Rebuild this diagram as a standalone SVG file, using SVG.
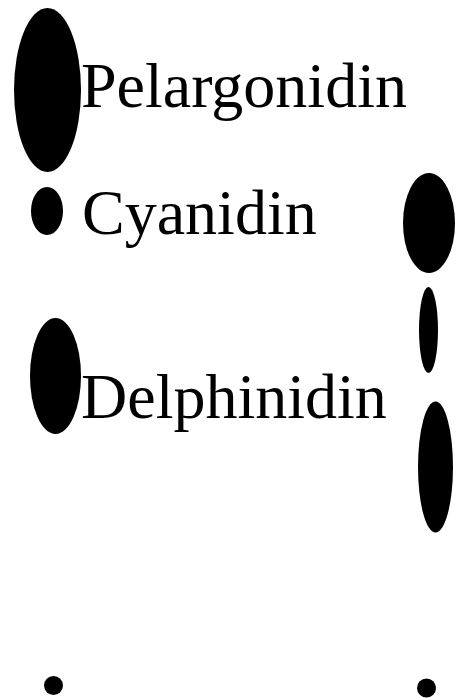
<svg xmlns="http://www.w3.org/2000/svg" width="456" height="700" viewBox="0 0 456 700">
<style>
.spot{fill:#000}
.lbl{font-family:"Liberation Serif","Times New Roman",serif;font-size:64px;fill:#000}
</style>
<rect width="456" height="700" fill="#fff"/>
<g id="pelargonidin">
<ellipse class="spot" cx="47.5" cy="90" rx="33.5" ry="82"/>
<text class="lbl" x="81" y="107">Pelargonidin</text>
</g>
<g id="cyanidin">
<ellipse class="spot" cx="47" cy="211" rx="16" ry="24"/>
<text class="lbl" x="82" y="234">Cyanidin</text>
</g>
<g id="delphinidin">
<ellipse class="spot" cx="55.5" cy="376" rx="25.5" ry="58"/>
<text class="lbl" x="81" y="418">Delphinidin</text>
</g>
<g id="right-spots">
<ellipse class="spot" cx="429" cy="223" rx="26" ry="50"/>
<ellipse class="spot" cx="428.5" cy="330" rx="9.5" ry="43"/>
<ellipse class="spot" cx="435.5" cy="467" rx="17.5" ry="65.5"/>
</g>
<g id="origin">
<circle class="spot" cx="53.5" cy="685.5" r="9.5"/>
<circle class="spot" cx="426.5" cy="688" r="9.5"/>
</g>
</svg>
